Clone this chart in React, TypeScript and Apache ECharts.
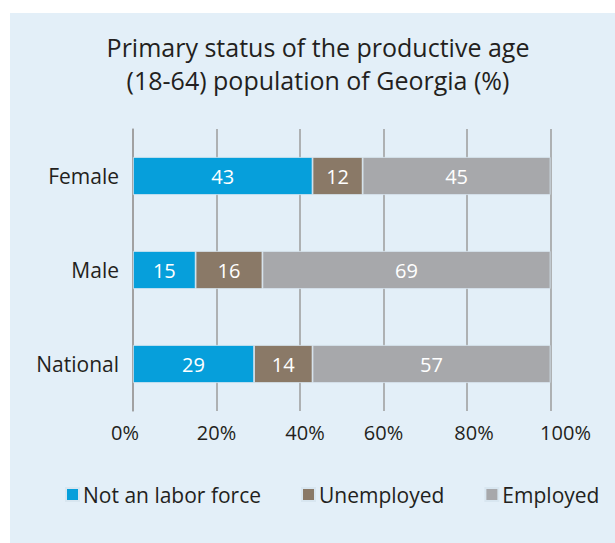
import React, { useEffect, useRef } from "react";
import * as echarts from "echarts";

const categories = ["Female", "Male", "National"];
const seriesNames = ["Not an labor force", "Unemployed", "Employed"];
const notInLaborForce = [43, 15, 29];
const unemployed = [12, 16, 14];
const employed = [45, 69, 57];
const tickLabels = ["0%", "20%", "40%", "60%", "80%", "100%"];

const colors = ["#069fdb", "#8a7967", "#a7a8ab"];
const FONT = "'Open Sans', 'Noto Sans', sans-serif";
const TEXT = "#231f20";
// horizontal nudges of the tick labels (px), matching the reference
const tickNudge = [-8, 0, 5, 0, 7, 15];

export default function App() {
  const ref = useRef<HTMLDivElement>(null);
  useEffect(() => {
    if (!ref.current) return;
    const chart = echarts.init(ref.current, undefined, { renderer: "svg" });
    const rich: Record<string, any> = {};
    tickNudge.forEach((n, i) => {
      rich["t" + i] = {
        fontSize: 20,
        fontFamily: FONT,
        color: TEXT,
        padding: n >= 0 ? [0, 0, 0, 2 * n] : [0, -2 * n, 0, 0],
      };
    });
    const values = [notInLaborForce, unemployed, employed];
    chart.setOption({
      animation: false,
      backgroundColor: "#ffffff",
      graphic: [
        {
          type: "rect",
          z: -10,
          silent: true,
          shape: { x: 10, y: 13, width: 605, height: 530 },
          style: { fill: "#e3eff8" },
        },
      ],
      title: {
        text: "Primary status of the productive age\n(18-64) population of Georgia (%)",
        left: 318,
        top: 30,
        textAlign: "center",
        padding: 0,
        textStyle: {
          fontFamily: FONT,
          fontSize: 25,
          fontWeight: "normal",
          color: TEXT,
          lineHeight: 33,
        },
      },
      legend: {
        data: seriesNames,
        left: 65,
        top: 484,
        padding: 0,
        icon: "rect",
        itemWidth: 13,
        itemHeight: 13,
        itemGap: 40,
        textStyle: { fontFamily: FONT, fontSize: 21, color: TEXT, padding: [0, 0, 0, -1] },
      },
      grid: { left: 133, right: 64.5, top: 129, bottom: 132, containLabel: false },
      xAxis: {
        type: "value",
        min: 0,
        max: 100,
        interval: 20,
        axisLine: { show: false },
        axisTick: { show: false },
        splitLine: { show: true, lineStyle: { color: "#9d9d9d", width: 1.5 } },
        axisLabel: {
          margin: 11,
          fontFamily: FONT,
          fontSize: 20,
          color: TEXT,
          formatter: (v: number) => {
            const i = Math.round(v / 20);
            return "{t" + i + "|" + tickLabels[i] + "}";
          },
          rich,
        },
      },
      yAxis: {
        type: "category",
        data: categories,
        inverse: true,
        axisLine: { show: true, lineStyle: { color: "#9d9d9d", width: 1.5 } },
        axisTick: { show: false },
        axisLabel: { margin: 14, fontFamily: FONT, fontSize: 21, color: TEXT },
      },
      series: seriesNames.map((name, i) => ({
        name,
        type: "bar",
        stack: "total",
        data: values[i],
        barWidth: 38,
        itemStyle: { color: colors[i], borderColor: "#d8e6f0", borderWidth: 0.8 },
        label: {
          show: true,
          position: "inside",
          color: "#ffffff",
          fontFamily: FONT,
          fontSize: 20,
        },
      })),
    });
    return () => chart.dispose();
  }, []);
  return (
    <div
      ref={ref}
      style={{ position: "fixed", left: 0, top: 0, width: 615, height: 543 }}
    />
  );
}
